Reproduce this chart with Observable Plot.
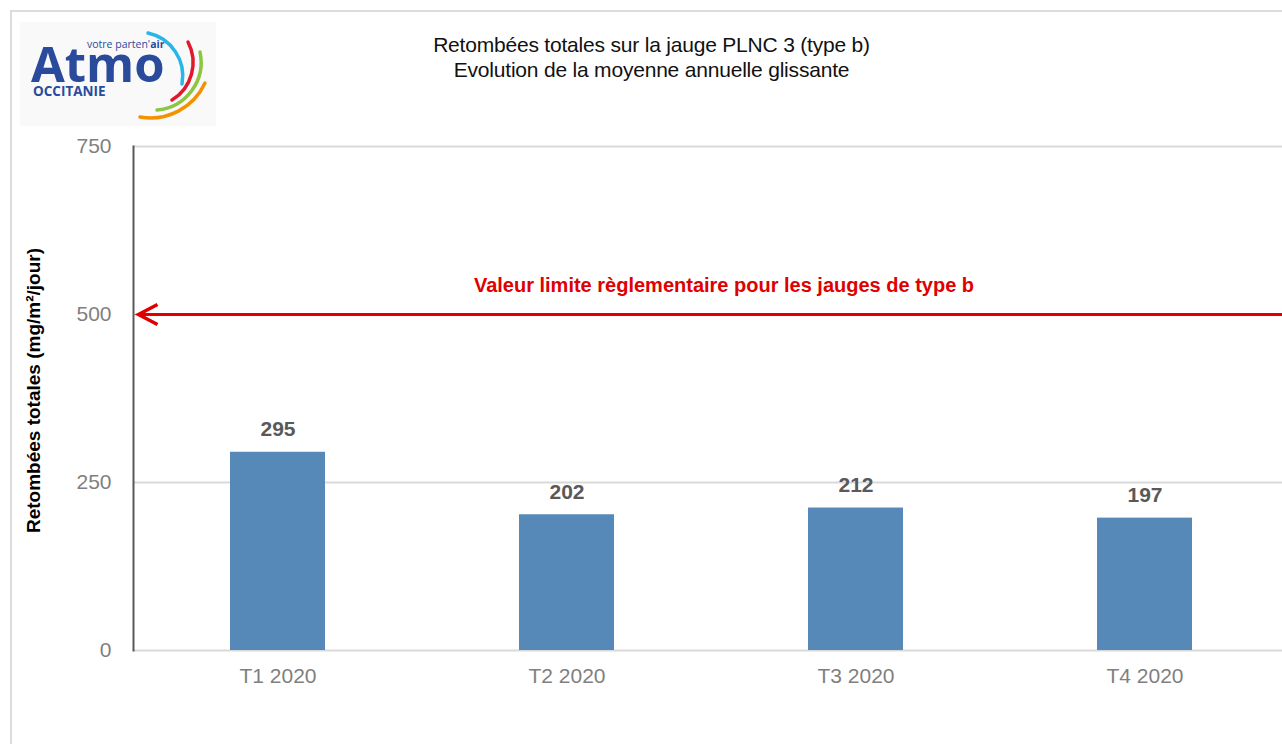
<!DOCTYPE html>
<html><head><meta charset="utf-8">
<script src="https://cdn.jsdelivr.net/npm/d3@7"></script>
<script src="https://cdn.jsdelivr.net/npm/@observablehq/plot@0.6"></script>
<style>
html,body{margin:0;padding:0;background:#fff;width:1282px;height:744px;overflow:hidden;}
#frame{position:absolute;left:10px;top:10px;width:1290px;height:760px;border:2px solid #dcdcdc;box-sizing:border-box;}
#chart{position:absolute;left:0;top:0;}
#title{position:absolute;left:0;width:1282px;top:32px;text-align:center;font-family:"Liberation Sans",Arial,sans-serif;font-size:21px;line-height:25px;color:#111;padding-left:21px;box-sizing:border-box;letter-spacing:-0.2px;}
#logo{position:absolute;left:20px;top:22px;width:196px;height:104px;background:#f9f9f9;}
</style></head>
<body>
<div id="frame"></div>
<div id="chart"></div>
<div id="title">Retombées totales sur la jauge PLNC 3 (type b)<br>Evolution de la moyenne annuelle glissante</div>
<div id="logo">
<svg width="196" height="104" viewBox="0 0 196 104">
 <text x="67" y="26" font-family="Open Sans, sans-serif" font-size="10.5" fill="#2a4a9c">votre parten'<tspan font-weight="bold">air</tspan></text>
 <text x="11" y="60" font-family="Open Sans, sans-serif" font-weight="bold" font-size="49" fill="#2a4a9c">Atmo</text>
 <text x="13" y="74" font-family="Open Sans, sans-serif" font-weight="bold" font-size="13.5" fill="#2a4a9c">OCCITANIE</text>
 <path d="M128 11 A44 44 0 0 1 162 62" stroke="#29b6e6" stroke-width="3.5" fill="none" stroke-linecap="round"/>
 <path d="M168 20 A44 44 0 0 1 152 78" stroke="#e2192c" stroke-width="3.5" fill="none" stroke-linecap="round"/>
 <path d="M180 30 A48 48 0 0 1 137 88" stroke="#8dc63f" stroke-width="3.5" fill="none" stroke-linecap="round"/>
 <path d="M185 61 A60 60 0 0 1 120 95" stroke="#f39200" stroke-width="3.5" fill="none" stroke-linecap="round"/>
</svg>
</div>
<script>
const categories = ["T1 2020", "T2 2020", "T3 2020", "T4 2020"];
const values = [295, 202, 212, 197];
const yTicks = [0, 250, 500, 750];
const limitValue = 500;
const limitLabel = "Valeur limite règlementaire pour les jauges de type b";
const yLabel = "Retombées totales (mg/m²/jour)";

const data = categories.map((c, i) => ({cat: c, value: values[i]}));
const font = "'Liberation Sans',Arial,sans-serif";

const chevron = {
  draw(context, size) {
    context.moveTo(19, -10);
    context.lineTo(0, 0);
    context.lineTo(19, 10);
  }
};

const chart = Plot.plot({
  width: 1282,
  height: 744,
  marginTop: 146,
  marginBottom: 94,
  marginLeft: 133,
  marginRight: 0,
  style: {fontFamily: font, background: "transparent", overflow: "visible"},
  x: {domain: categories, range: [133, 1289], paddingInner: 0.67, paddingOuter: 0.335, label: null},
  y: {domain: [0, 750], ticks: yTicks, label: null},
  marks: [
    Plot.ruleY(yTicks, {stroke: "#d9d9d9", strokeWidth: 2, strokeOpacity: 1}),
    Plot.frame({anchor: "left", stroke: "#595959", strokeWidth: 2, strokeOpacity: 1}),
    Plot.barY(data, {x: "cat", y: "value", fill: "#5689b8"}),
    Plot.text(data, {x: "cat", y: "value", text: d => String(d.value), lineAnchor: "bottom", dy: -16, fontSize: 21, fontWeight: "bold", fill: "#595959"}),
    Plot.ruleY([limitValue], {stroke: "#e00000", strokeWidth: 3, strokeOpacity: 1, insetLeft: 5}),
    Plot.dot([limitValue], {y: d => d, frameAnchor: "left", dx: 5, symbol: chevron, r: 10, fill: "none", stroke: "#e00000", strokeWidth: 3.5, strokeOpacity: 1, strokeLinejoin: "miter"}),
    Plot.text([limitLabel], {x: () => "T3 2020", y: () => limitValue, text: d => d, dx: -132, dy: -29, fontSize: 20, fontWeight: "bold", fill: "#e00000"}),
    Plot.axisX({fontSize: 21, fill: "#7f7f7f", tickSize: 0, tickPadding: 18, label: null}),
    Plot.axisY({ticks: yTicks, fontSize: 21, fill: "#7f7f7f", tickSize: 0, tickPadding: 22, label: null}),
    Plot.text([yLabel], {frameAnchor: "left", textAnchor: "middle", dx: -100, dy: -8, rotate: -90, text: d => d, fontSize: 19, fontWeight: "bold", fill: "#000"})
  ]
});
document.getElementById("chart").appendChild(chart);
</script>
</body></html>
